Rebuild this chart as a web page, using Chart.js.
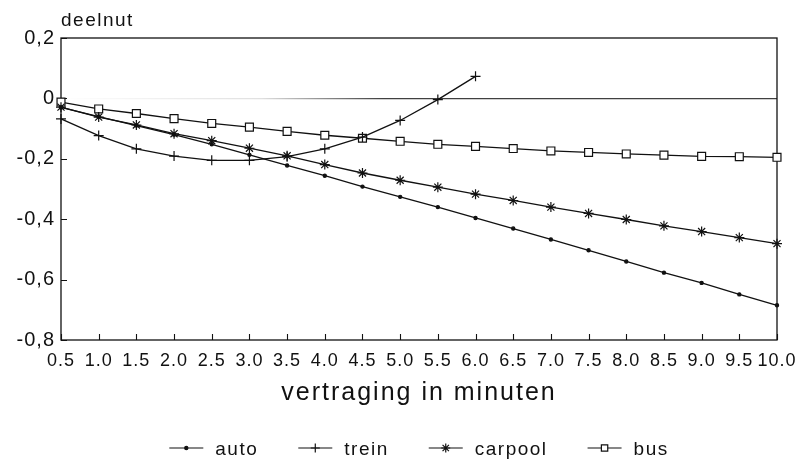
<!DOCTYPE html>
<html>
<head>
<meta charset="utf-8">
<script src="https://cdn.jsdelivr.net/npm/chart.js@4.4.1/dist/chart.umd.min.js"></script>
<style>
    html, body { margin: 0; padding: 0; background: #fff; }
    #wrap { width: 799px; height: 461px; position: relative; }
</style>
</head>
<body>
<div id="wrap"><canvas id="c"></canvas></div>
<script>
// vertraging (minuten) op de x-as
const minutes = ['0.5', '1.0', '1.5', '2.0', '2.5', '3.0', '3.5', '4.0', '4.5', '5.0',
    '5.5', '6.0', '6.5', '7.0', '7.5', '8.0', '8.5', '9.0', '9.5', '10.0'];
const yTickValues = [-0.8, -0.6, -0.4, -0.2, 0, 0.2];

const autoValues = [-0.03, -0.06, -0.09, -0.12, -0.152, -0.187, -0.222, -0.256, -0.292, -0.326,
    -0.36, -0.396, -0.431, -0.467, -0.503, -0.54, -0.577, -0.611, -0.649, -0.685];
const treinValues = [-0.068, -0.123, -0.167, -0.191, -0.205, -0.205, -0.193, -0.167, -0.128, -0.073,
    -0.004, 0.073];
const carpoolValues = [-0.029, -0.062, -0.088, -0.117, -0.14, -0.165, -0.19, -0.219, -0.247, -0.271,
    -0.294, -0.317, -0.338, -0.36, -0.381, -0.401, -0.422, -0.441, -0.461, -0.481];
const busValues = [-0.012, -0.035, -0.05, -0.067, -0.083, -0.095, -0.109, -0.122, -0.132, -0.142,
    -0.152, -0.159, -0.166, -0.174, -0.179, -0.184, -0.188, -0.192, -0.193, -0.195];

const INK = '#111111';
const FONT = "'Liberation Sans', Arial, Helvetica, sans-serif";

function series(label, data, pointStyle, radius, fill) {
    return {
        label,
        data,
        borderColor: INK,
        borderWidth: 1.3,
        tension: 0,
        pointStyle,
        pointRadius: radius,
        pointHoverRadius: radius,
        pointBorderColor: INK,
        pointBackgroundColor: fill,
        pointBorderWidth: 1.2,
        clip: false,
    };
}

// zero line fades in from the left, like the scan
function zeroLineColor(ctx) {
    if (!ctx.tick || Math.abs(ctx.tick.value) > 1e-9) return 'rgba(0,0,0,0)';
    const a = ctx.chart.chartArea;
    if (!a) return '#333';
    const g = ctx.chart.ctx.createLinearGradient(a.left, 0, a.right, 0);
    g.addColorStop(0, 'rgba(0,0,0,0)');
    g.addColorStop(0.28, 'rgba(0,0,0,0.12)');
    g.addColorStop(0.45, 'rgba(0,0,0,0.75)');
    g.addColorStop(1, 'rgba(0,0,0,0.75)');
    return g;
}

const framePlugin = {
    id: 'frame',
    beforeDraw(chart) {
        chart.ctx.letterSpacing = '1px';
    },
    beforeDatasetsDraw(chart) {
        const { ctx, chartArea: a, scales } = chart;
        ctx.save();
        ctx.strokeStyle = INK;
        ctx.lineWidth = 1.3;
        ctx.strokeRect(a.left, a.top, a.right - a.left, a.bottom - a.top);
        ctx.lineWidth = 1.1;
        ctx.beginPath();
        scales.x.ticks.forEach((t, i) => {
            const px = Math.round(scales.x.getPixelForTick(i)) + 0.5;
            ctx.moveTo(px, a.bottom);
            ctx.lineTo(px, a.bottom - 6);
        });
        scales.y.ticks.forEach((t, i) => {
            const py = Math.round(scales.y.getPixelForTick(i)) + 0.5;
            ctx.moveTo(a.left, py);
            ctx.lineTo(a.left + 6, py);
        });
        ctx.stroke();
        ctx.restore();
    },
    afterDraw(chart) {
        const { ctx, chartArea: a } = chart;
        const mid = (a.left + a.right) / 2;
        ctx.save();
        ctx.fillStyle = INK;
        ctx.textBaseline = 'middle';

        ctx.letterSpacing = '1.5px';
        ctx.font = '19px ' + FONT;
        ctx.textAlign = 'left';
        ctx.fillText('deelnut', a.left, 21);

        ctx.letterSpacing = '2px';
        ctx.font = '25px ' + FONT;
        ctx.textAlign = 'center';
        ctx.fillText('vertraging in minuten', mid, 393);

        // legend: line + marker + label, centred under the plot
        ctx.letterSpacing = '1.5px';
        ctx.font = '19px ' + FONT;
        ctx.textAlign = 'left';
        const lineLen = 34, gap = 12, after = 40, y = 448;
        const items = chart.data.datasets.map((ds) => ({ ds, w: ctx.measureText(ds.label).width }));
        const total = items.reduce((s, it) => s + lineLen + gap + it.w, 0) + after * (items.length - 1);
        let x = mid - total / 2;
        items.forEach(({ ds, w }) => {
            ctx.strokeStyle = INK;
            ctx.lineWidth = 1.2;
            ctx.beginPath();
            ctx.moveTo(x, y);
            ctx.lineTo(x + lineLen, y);
            ctx.stroke();
            ctx.fillStyle = ds.pointBackgroundColor;
            Chart.helpers.drawPoint(ctx, {
                pointStyle: ds.pointStyle,
                radius: Math.min(ds.pointRadius, 4.5),
                rotation: 0,
                borderWidth: 1.1,
            }, x + lineLen / 2, y);
            ctx.fillStyle = INK;
            ctx.fillText(ds.label, x + lineLen + gap, y + 2);
            x += lineLen + gap + w + after;
        });
        ctx.restore();
    },
};

Chart.defaults.font.family = FONT;
Chart.defaults.color = INK;

new Chart(document.getElementById('c'), {
    type: 'line',
    data: {
        labels: minutes,
        datasets: [
            series('auto', autoValues, 'circle', 1.6, INK),
            series('trein', treinValues, 'cross', 5, INK),
            series('carpool', carpoolValues, 'star', 5, INK),
            series('bus', busValues, 'rect', 5.6, '#ffffff'),
        ],
    },
    options: {
        responsive: true,
        maintainAspectRatio: false,
        animation: false,
        devicePixelRatio: 1,
        layout: { padding: { top: 38, right: 22, bottom: 0, left: 0 } },
        plugins: { legend: { display: false }, tooltip: { enabled: false } },
        scales: {
            x: {
                type: 'category',
                offset: false,
                grid: { display: false, drawTicks: false },
                border: { display: false },
                ticks: {
                    autoSkip: false, maxRotation: 0, minRotation: 0, padding: 10,
                    color: INK, font: { size: 18 },
                },
                afterFit: (s) => {
                    s.height = 121;
                    s.paddingLeft = 0;
                    s.paddingRight = 0;
                },
            },
            y: {
                min: -0.8,
                max: 0.2,
                afterBuildTicks: (s) => { s.ticks = yTickValues.map((v) => ({ value: v })); },
                grid: { drawTicks: false, color: zeroLineColor, lineWidth: 1.2 },
                border: { display: false },
                ticks: {
                    padding: 6,
                    color: INK,
                    font: { size: 20 },
                    callback: (v) => (Math.abs(v) < 1e-9 ? '0' : Number(v).toFixed(1).replace('.', ',')),
                },
                afterFit: (s) => {
                    s.width = 61;
                    s.paddingTop = 0;
                    s.paddingBottom = 0;
                },
            },
        },
    },
    plugins: [framePlugin],
});
</script>
</body>
</html>
